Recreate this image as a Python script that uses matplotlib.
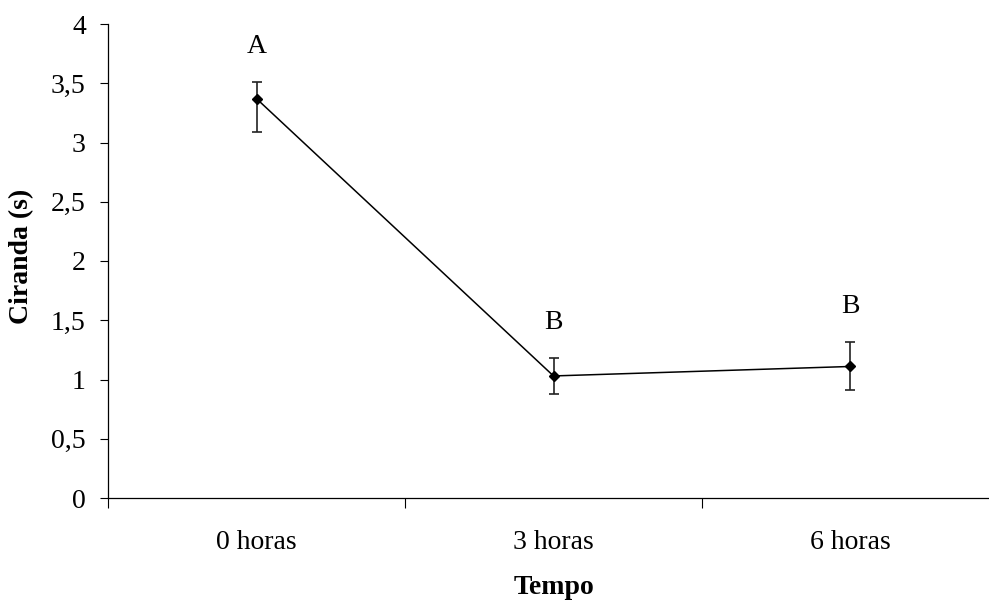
import matplotlib.pyplot as plt
import numpy as np

categorias = ['0 horas', '3 horas', '6 horas']
media = [3.37, 1.03, 1.11]
erro_sup = [3.51, 1.18, 1.32]
erro_inf = [3.09, 0.88, 0.91]
letras = ['A', 'B', 'B']

plt.rcParams['font.family'] = ['Liberation Serif', 'DejaVu Serif']

fig = plt.figure(figsize=(9.89, 6.02), dpi=100)
ax = fig.add_axes([108 / 989, 104 / 602, 891 / 989, 474 / 602])

x = np.arange(len(categorias))
media = np.array(media)
yerr = [media - np.array(erro_inf), np.array(erro_sup) - media]

ax.errorbar(x, media, yerr=yerr, fmt='none', ecolor='#222222', elinewidth=1.2,
            capsize=3.8, capthick=1.2, zorder=2)
ax.plot(x, media, color='black', linewidth=1.1, marker='D', markersize=5,
        markerfacecolor='black', zorder=3)

for xi, top, letra in zip(x, erro_sup, letras):
    ax.text(xi, top + 0.3, letra, ha='center', va='center', fontsize=20)

ax.set_xlim(-0.5, 2.5)
ax.set_ylim(0, 4)
ax.set_yticks(np.arange(0, 4.01, 0.5))
ax.set_yticklabels(['0', '0,5', '1', '1,5', '2', '2,5', '3', '3,5', '4'])

# ticks nas divisões das categorias, rótulos no centro
ax.set_xticks([-0.5, 0.5, 1.5, 2.5])
ax.set_xticklabels([])
ax.set_xticks(x, minor=True)
ax.set_xticklabels(categorias, minor=True)
ax.tick_params(axis='x', which='major', length=7, width=0.8, direction='out')
ax.tick_params(axis='x', which='minor', length=0, pad=23, labelsize=20)
ax.tick_params(axis='y', length=6, width=0.8, direction='out', pad=10, labelsize=20)

for lado in ['top', 'right']:
    ax.spines[lado].set_visible(False)
for lado in ['left', 'bottom']:
    ax.spines[lado].set_linewidth(0.9)

ax.set_ylabel('Ciranda (s)', fontsize=20, fontweight='bold')
ax.yaxis.set_label_coords(-0.083, 0.51)
ax.text(446 / 891, -90 / 474, 'Tempo', transform=ax.transAxes, ha='center',
        va='center', fontsize=20, fontweight='bold')

fig.savefig('out.png', dpi=100)
